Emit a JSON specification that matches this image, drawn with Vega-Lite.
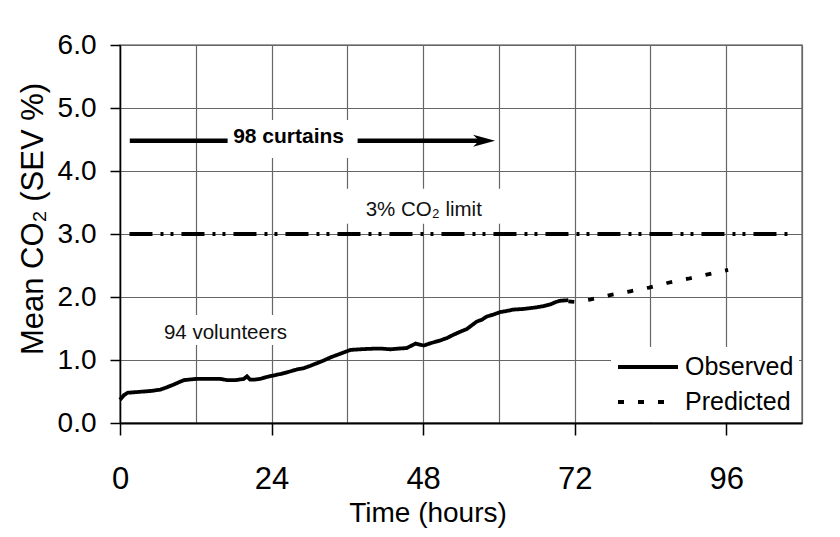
{
  "$schema": "https://vega.github.io/schema/vega-lite/v6.json",
  "width": 682,
  "height": 378,
  "autosize": "none",
  "padding": {"left": 120, "top": 45, "right": 38, "bottom": 114},
  "background": "white",
  "config": {
    "font": "Liberation Sans",
    "view": {"stroke": "#808080", "strokeWidth": 1.5}
  },
  "datasets": {
    "co2": [
      {"time": 0, "co2": 0.37, "series": "Observed"},
      {"time": 0.6, "co2": 0.44, "series": "Observed"},
      {"time": 1.2, "co2": 0.48, "series": "Observed"},
      {"time": 2.5, "co2": 0.49, "series": "Observed"},
      {"time": 3.8, "co2": 0.5, "series": "Observed"},
      {"time": 5.0, "co2": 0.51, "series": "Observed"},
      {"time": 6.4, "co2": 0.53, "series": "Observed"},
      {"time": 7.5, "co2": 0.57, "series": "Observed"},
      {"time": 8.5, "co2": 0.61, "series": "Observed"},
      {"time": 9.4, "co2": 0.65, "series": "Observed"},
      {"time": 10.1, "co2": 0.68, "series": "Observed"},
      {"time": 11.0, "co2": 0.69, "series": "Observed"},
      {"time": 12.1, "co2": 0.7, "series": "Observed"},
      {"time": 14.0, "co2": 0.7, "series": "Observed"},
      {"time": 15.9, "co2": 0.7, "series": "Observed"},
      {"time": 17.0, "co2": 0.68, "series": "Observed"},
      {"time": 18.3, "co2": 0.68, "series": "Observed"},
      {"time": 19.6, "co2": 0.7, "series": "Observed"},
      {"time": 20.1, "co2": 0.74, "series": "Observed"},
      {"time": 20.6, "co2": 0.69, "series": "Observed"},
      {"time": 21.4, "co2": 0.69, "series": "Observed"},
      {"time": 22.2, "co2": 0.7, "series": "Observed"},
      {"time": 23.2, "co2": 0.73, "series": "Observed"},
      {"time": 24.1, "co2": 0.75, "series": "Observed"},
      {"time": 25.5, "co2": 0.78, "series": "Observed"},
      {"time": 27.0, "co2": 0.82, "series": "Observed"},
      {"time": 28.0, "co2": 0.85, "series": "Observed"},
      {"time": 29.1, "co2": 0.87, "series": "Observed"},
      {"time": 30.2, "co2": 0.91, "series": "Observed"},
      {"time": 31.2, "co2": 0.95, "series": "Observed"},
      {"time": 32.2, "co2": 0.99, "series": "Observed"},
      {"time": 33.3, "co2": 1.04, "series": "Observed"},
      {"time": 34.1, "co2": 1.07, "series": "Observed"},
      {"time": 34.9, "co2": 1.1, "series": "Observed"},
      {"time": 35.7, "co2": 1.13, "series": "Observed"},
      {"time": 36.5, "co2": 1.16, "series": "Observed"},
      {"time": 38.0, "co2": 1.17, "series": "Observed"},
      {"time": 40.2, "co2": 1.18, "series": "Observed"},
      {"time": 41.5, "co2": 1.18, "series": "Observed"},
      {"time": 42.8, "co2": 1.17, "series": "Observed"},
      {"time": 44.0, "co2": 1.18, "series": "Observed"},
      {"time": 45.4, "co2": 1.19, "series": "Observed"},
      {"time": 46.8, "co2": 1.26, "series": "Observed"},
      {"time": 48.1, "co2": 1.23, "series": "Observed"},
      {"time": 49.3, "co2": 1.27, "series": "Observed"},
      {"time": 50.7, "co2": 1.31, "series": "Observed"},
      {"time": 51.8, "co2": 1.35, "series": "Observed"},
      {"time": 52.8, "co2": 1.4, "series": "Observed"},
      {"time": 53.9, "co2": 1.45, "series": "Observed"},
      {"time": 54.9, "co2": 1.49, "series": "Observed"},
      {"time": 55.7, "co2": 1.55, "series": "Observed"},
      {"time": 56.5, "co2": 1.61, "series": "Observed"},
      {"time": 57.3, "co2": 1.64, "series": "Observed"},
      {"time": 58.1, "co2": 1.69, "series": "Observed"},
      {"time": 59.1, "co2": 1.72, "series": "Observed"},
      {"time": 60.2, "co2": 1.76, "series": "Observed"},
      {"time": 61.3, "co2": 1.78, "series": "Observed"},
      {"time": 62.3, "co2": 1.8, "series": "Observed"},
      {"time": 63.9, "co2": 1.81, "series": "Observed"},
      {"time": 65.5, "co2": 1.83, "series": "Observed"},
      {"time": 66.8, "co2": 1.85, "series": "Observed"},
      {"time": 68.1, "co2": 1.88, "series": "Observed"},
      {"time": 69.0, "co2": 1.92, "series": "Observed"},
      {"time": 69.7, "co2": 1.94, "series": "Observed"},
      {"time": 71.0, "co2": 1.95, "series": "Observed"},
      {"time": 71.0, "co2": 1.93, "series": "Predicted"},
      {"time": 72.1, "co2": 1.92, "series": "Predicted"},
      {"time": 74.4, "co2": 1.96, "series": "Predicted"},
      {"time": 77.6, "co2": 2.03, "series": "Predicted"},
      {"time": 80.8, "co2": 2.09, "series": "Predicted"},
      {"time": 83.8, "co2": 2.15, "series": "Predicted"},
      {"time": 87.0, "co2": 2.23, "series": "Predicted"},
      {"time": 90.0, "co2": 2.29, "series": "Predicted"},
      {"time": 93.1, "co2": 2.36, "series": "Predicted"},
      {"time": 96.3, "co2": 2.43, "series": "Predicted"}
    ],
    "limit": [{"time": 1.5, "time2": 106, "co2": 3}],
    "arrow": [{"time": 1.55, "time2": 57.5, "co2": 4.48}],
    "arrowhead": [{"time": 59.4, "co2": 4.48}],
    "notes": [
      {"label": "98 curtains", "time": 26.7, "co2": 4.444},
      {"label": "3% CO₂ limit", "time": 48.1, "co2": 3.29},
      {"label": "94 volunteers", "time": 16.7, "co2": 1.333}
    ]
  },
  "encoding": {
    "x": {
      "field": "time",
      "type": "quantitative",
      "scale": {"domain": [0, 108], "nice": false, "zero": false},
      "axis": {
        "title": "Time (hours)",
        "values": [0, 12, 24, 36, 48, 60, 72, 84, 96, 108],
        "labelExpr": "datum.value % 24 === 0 ? datum.label : ''",
        "grid": true,
        "gridColor": "#666666",
        "gridWidth": 1.2,
        "domainColor": "black",
        "domainWidth": 2,
        "tickColor": "black",
        "tickWidth": 1.5,
        "tickSize": 12,
        "tickOpacity": {"condition": {"test": "datum.value % 24 !== 0", "value": 0}, "value": 1},
        "labelFontSize": 31,
        "labelColor": "black",
        "labelBaseline": "alphabetic",
        "labelPadding": 53,
        "labelFlush": false,
        "labelOverlap": false,
        "titleFontSize": 28,
        "titleFontWeight": "normal",
        "titleColor": "black",
        "titleX": 307.5,
        "titleY": 98,
        "titleBaseline": "alphabetic",
        "titleAlign": "center"
      }
    },
    "y": {
      "field": "co2",
      "type": "quantitative",
      "scale": {"domain": [0, 6], "nice": false},
      "axis": {
        "title": "Mean CO₂ (SEV %)",
        "values": [0, 1, 2, 3, 4, 5, 6],
        "format": ".1f",
        "grid": true,
        "gridColor": "#666666",
        "gridWidth": 1.2,
        "domainColor": "black",
        "domainWidth": 1.5,
        "tickColor": "black",
        "tickWidth": 1.5,
        "tickSize": 10,
        "labelFontSize": 28,
        "labelColor": "black",
        "labelPadding": 14,
        "labelFlush": false,
        "labelOverlap": false,
        "titleFontSize": 31,
        "titleFontWeight": "normal",
        "titleColor": "black",
        "titleX": -78,
        "titleY": 173.5,
        "titleBaseline": "alphabetic",
        "titleAlign": "center"
      }
    }
  },
  "layer": [
    {
      "data": {"name": "limit"},
      "mark": {"type": "rule", "color": "black", "strokeWidth": 4, "strokeDash": [23, 8, 3, 7, 3, 8]},
      "encoding": {"x2": {"field": "time2"}}
    },
    {
      "data": {"name": "arrow"},
      "mark": {"type": "rule", "color": "black", "strokeWidth": 4.5},
      "encoding": {"x2": {"field": "time2"}}
    },
    {
      "data": {"name": "arrowhead"},
      "mark": {"type": "point", "shape": "M0,0L-2,-0.55L-1.45,0L-2,0.55Z", "size": 484, "filled": true, "color": "black", "opacity": 1, "strokeWidth": 0}
    },
    {
      "data": {"name": "notes"},
      "transform": [{"filter": "datum.label === '98 curtains'"}],
      "mark": {"type": "rect", "color": "white", "xOffset": -61, "x2Offset": 69, "yOffset": -23, "y2Offset": 15},
      "encoding": {"x2": {"field": "time"}, "y2": {"field": "co2"}}
    },
    {
      "data": {"name": "notes"},
      "transform": [{"filter": "datum.label === '3% CO₂ limit'"}],
      "mark": {"type": "rect", "color": "white", "xOffset": -83, "x2Offset": 82, "yOffset": -27, "y2Offset": 8},
      "encoding": {"x2": {"field": "time"}, "y2": {"field": "co2"}}
    },
    {
      "data": {"name": "notes"},
      "transform": [{"filter": "datum.label === '94 volunteers'"}],
      "mark": {"type": "rect", "color": "white", "xOffset": -70, "x2Offset": 70, "yOffset": -24, "y2Offset": 6},
      "encoding": {"x2": {"field": "time"}, "y2": {"field": "co2"}}
    },
    {
      "data": {"name": "notes"},
      "transform": [{"filter": "datum.label === '98 curtains'"}],
      "mark": {"type": "text", "fontSize": 21, "fontWeight": "bold", "align": "center", "baseline": "alphabetic", "color": "black"},
      "encoding": {"text": {"field": "label"}}
    },
    {
      "data": {"name": "notes"},
      "transform": [{"filter": "datum.label !== '98 curtains'"}],
      "mark": {"type": "text", "fontSize": 20.5, "align": "center", "baseline": "alphabetic", "color": "#111"},
      "encoding": {"text": {"field": "label"}}
    },
    {
      "data": {"name": "co2"},
      "mark": {"type": "line", "color": "black", "strokeWidth": 3.8},
      "encoding": {
        "strokeDash": {
          "field": "series",
          "type": "nominal",
          "scale": {"domain": ["Observed", "Predicted"], "range": [[1, 0], [6, 14]]},
          "legend": {
            "title": null,
            "orient": "none",
            "legendX": 491,
            "legendY": 302,
            "symbolType": "stroke",
            "symbolSize": 3600,
            "symbolStrokeWidth": 4,
            "symbolStrokeColor": "black",
            "clipHeight": 30,
            "rowPadding": 5,
            "padding": 5,
            "labelFontSize": 25,
            "labelColor": "black",
            "labelOffset": 5,
            "fillColor": "white"
          }
        }
      }
    }
  ]
}
